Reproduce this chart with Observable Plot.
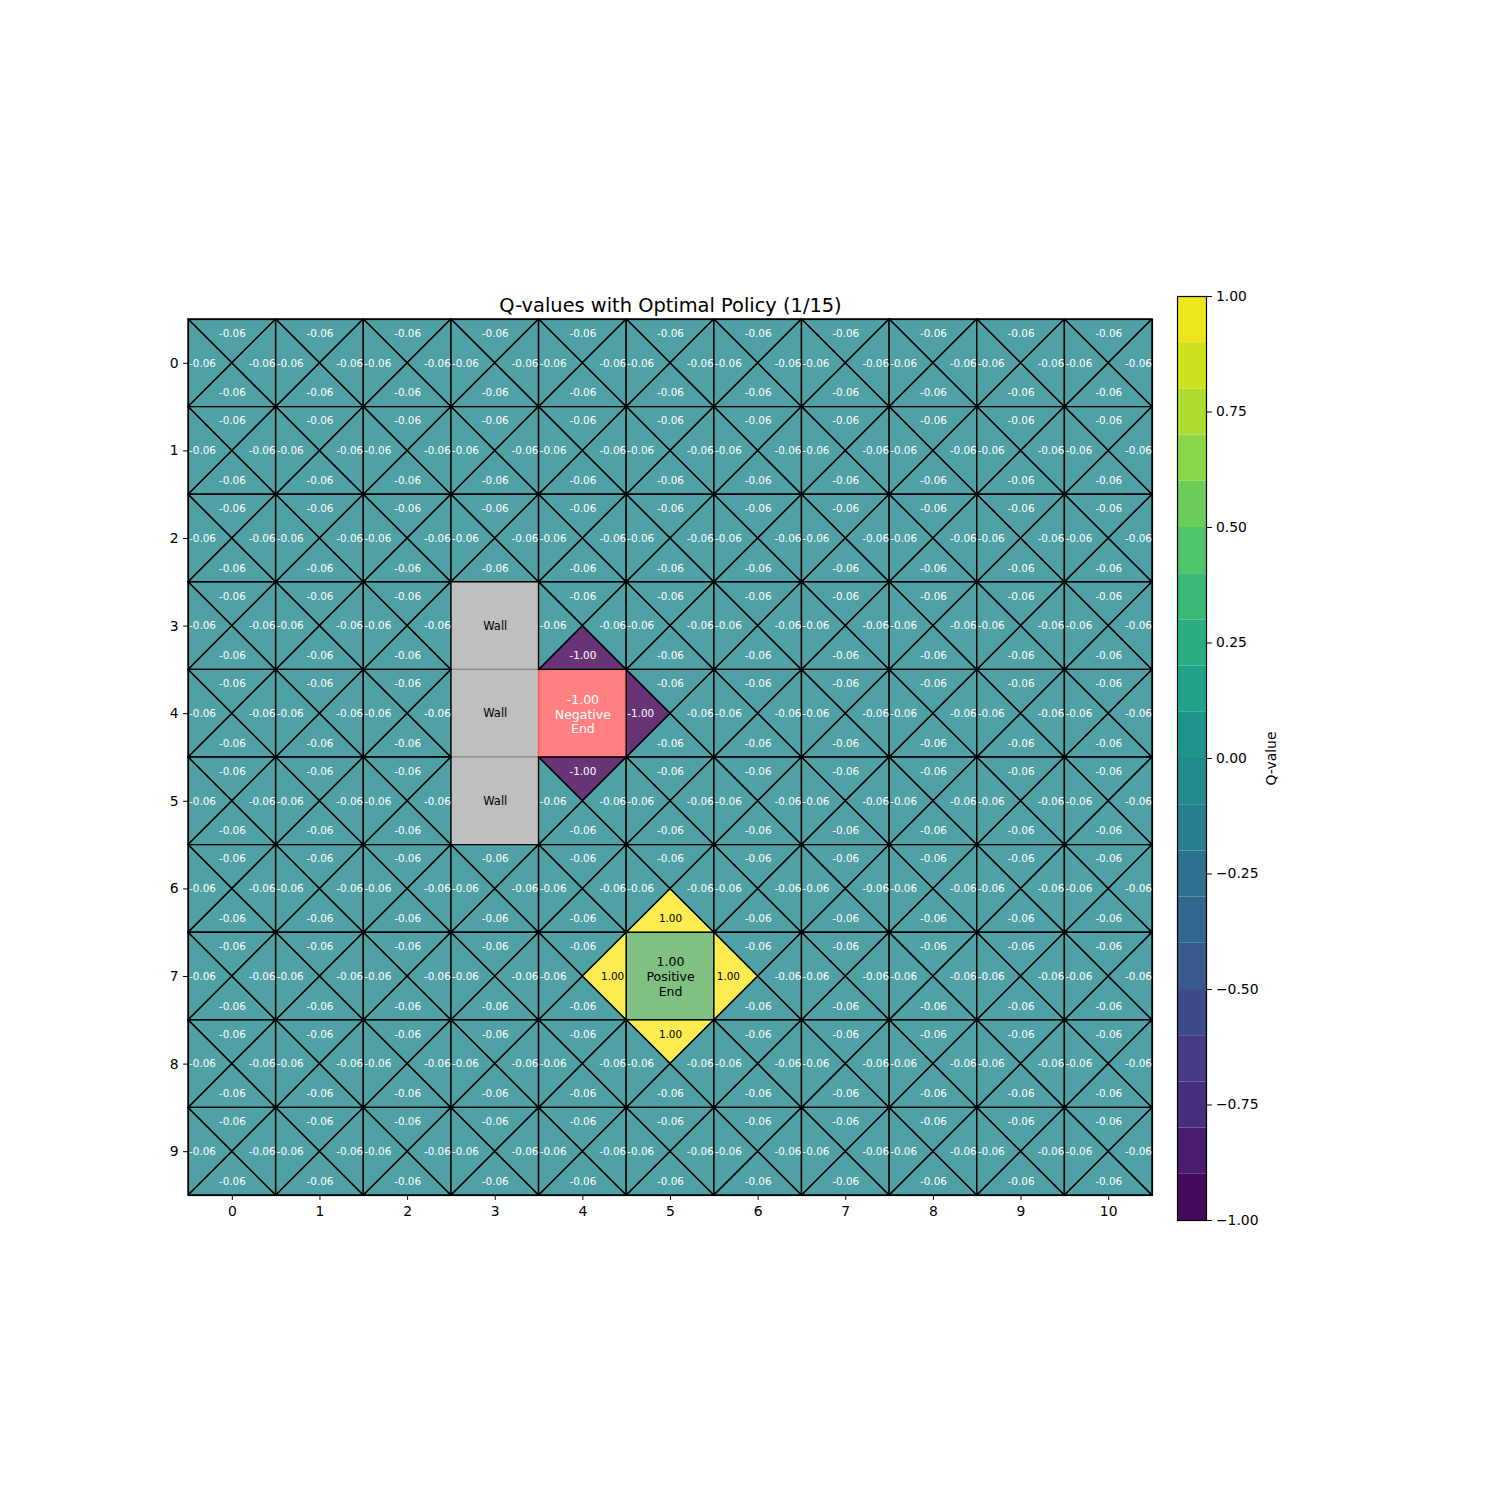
<!DOCTYPE html>
<html>
<head>
<meta charset="utf-8">
<script src="https://cdn.jsdelivr.net/npm/d3@7"></script>
<script src="https://cdn.jsdelivr.net/npm/@observablehq/plot@0.6"></script>
<style>
  html, body { margin: 0; padding: 0; background: white; }
  #chart { position: relative; width: 1500px; height: 1500px; }
  #chart svg { position: absolute; left: 0; top: 0; }
</style>
</head>
<body>
<div id="chart"></div>
<script>
const _ = null;
const titleText = "Q-values with Optimal Policy (1/15)";
const colTicks = [0, 1, 2, 3, 4, 5, 6, 7, 8, 9, 10];
const rowTicks = [0, 1, 2, 3, 4, 5, 6, 7, 8, 9];
const cbTicks = [-1.00, -0.75, -0.50, -0.25, 0.00, 0.25, 0.50, 0.75, 1.00];

// Q-value of the triangle pointing up / down / left / right in each cell (row, col)
const qUp = [
  [-0.06,-0.06,-0.06,-0.06,-0.06,-0.06,-0.06,-0.06,-0.06,-0.06,-0.06],
  [-0.06,-0.06,-0.06,-0.06,-0.06,-0.06,-0.06,-0.06,-0.06,-0.06,-0.06],
  [-0.06,-0.06,-0.06,-0.06,-0.06,-0.06,-0.06,-0.06,-0.06,-0.06,-0.06],
  [-0.06,-0.06,-0.06,_,-0.06,-0.06,-0.06,-0.06,-0.06,-0.06,-0.06],
  [-0.06,-0.06,-0.06,_,_,-0.06,-0.06,-0.06,-0.06,-0.06,-0.06],
  [-0.06,-0.06,-0.06,_,-1.00,-0.06,-0.06,-0.06,-0.06,-0.06,-0.06],
  [-0.06,-0.06,-0.06,-0.06,-0.06,-0.06,-0.06,-0.06,-0.06,-0.06,-0.06],
  [-0.06,-0.06,-0.06,-0.06,-0.06,_,-0.06,-0.06,-0.06,-0.06,-0.06],
  [-0.06,-0.06,-0.06,-0.06,-0.06,1.00,-0.06,-0.06,-0.06,-0.06,-0.06],
  [-0.06,-0.06,-0.06,-0.06,-0.06,-0.06,-0.06,-0.06,-0.06,-0.06,-0.06]
];
const qDown = [
  [-0.06,-0.06,-0.06,-0.06,-0.06,-0.06,-0.06,-0.06,-0.06,-0.06,-0.06],
  [-0.06,-0.06,-0.06,-0.06,-0.06,-0.06,-0.06,-0.06,-0.06,-0.06,-0.06],
  [-0.06,-0.06,-0.06,-0.06,-0.06,-0.06,-0.06,-0.06,-0.06,-0.06,-0.06],
  [-0.06,-0.06,-0.06,_,-1.00,-0.06,-0.06,-0.06,-0.06,-0.06,-0.06],
  [-0.06,-0.06,-0.06,_,_,-0.06,-0.06,-0.06,-0.06,-0.06,-0.06],
  [-0.06,-0.06,-0.06,_,-0.06,-0.06,-0.06,-0.06,-0.06,-0.06,-0.06],
  [-0.06,-0.06,-0.06,-0.06,-0.06,1.00,-0.06,-0.06,-0.06,-0.06,-0.06],
  [-0.06,-0.06,-0.06,-0.06,-0.06,_,-0.06,-0.06,-0.06,-0.06,-0.06],
  [-0.06,-0.06,-0.06,-0.06,-0.06,-0.06,-0.06,-0.06,-0.06,-0.06,-0.06],
  [-0.06,-0.06,-0.06,-0.06,-0.06,-0.06,-0.06,-0.06,-0.06,-0.06,-0.06]
];
const qLeft = [
  [-0.06,-0.06,-0.06,-0.06,-0.06,-0.06,-0.06,-0.06,-0.06,-0.06,-0.06],
  [-0.06,-0.06,-0.06,-0.06,-0.06,-0.06,-0.06,-0.06,-0.06,-0.06,-0.06],
  [-0.06,-0.06,-0.06,-0.06,-0.06,-0.06,-0.06,-0.06,-0.06,-0.06,-0.06],
  [-0.06,-0.06,-0.06,_,-0.06,-0.06,-0.06,-0.06,-0.06,-0.06,-0.06],
  [-0.06,-0.06,-0.06,_,_,-1.00,-0.06,-0.06,-0.06,-0.06,-0.06],
  [-0.06,-0.06,-0.06,_,-0.06,-0.06,-0.06,-0.06,-0.06,-0.06,-0.06],
  [-0.06,-0.06,-0.06,-0.06,-0.06,-0.06,-0.06,-0.06,-0.06,-0.06,-0.06],
  [-0.06,-0.06,-0.06,-0.06,-0.06,_,1.00,-0.06,-0.06,-0.06,-0.06],
  [-0.06,-0.06,-0.06,-0.06,-0.06,-0.06,-0.06,-0.06,-0.06,-0.06,-0.06],
  [-0.06,-0.06,-0.06,-0.06,-0.06,-0.06,-0.06,-0.06,-0.06,-0.06,-0.06]
];
const qRight = [
  [-0.06,-0.06,-0.06,-0.06,-0.06,-0.06,-0.06,-0.06,-0.06,-0.06,-0.06],
  [-0.06,-0.06,-0.06,-0.06,-0.06,-0.06,-0.06,-0.06,-0.06,-0.06,-0.06],
  [-0.06,-0.06,-0.06,-0.06,-0.06,-0.06,-0.06,-0.06,-0.06,-0.06,-0.06],
  [-0.06,-0.06,-0.06,_,-0.06,-0.06,-0.06,-0.06,-0.06,-0.06,-0.06],
  [-0.06,-0.06,-0.06,_,_,-0.06,-0.06,-0.06,-0.06,-0.06,-0.06],
  [-0.06,-0.06,-0.06,_,-0.06,-0.06,-0.06,-0.06,-0.06,-0.06,-0.06],
  [-0.06,-0.06,-0.06,-0.06,-0.06,-0.06,-0.06,-0.06,-0.06,-0.06,-0.06],
  [-0.06,-0.06,-0.06,-0.06,1.00,_,-0.06,-0.06,-0.06,-0.06,-0.06],
  [-0.06,-0.06,-0.06,-0.06,-0.06,-0.06,-0.06,-0.06,-0.06,-0.06,-0.06],
  [-0.06,-0.06,-0.06,-0.06,-0.06,-0.06,-0.06,-0.06,-0.06,-0.06,-0.06]
];

const walls = [
  {row: 3, col: 3, label: "Wall"},
  {row: 4, col: 3, label: "Wall"},
  {row: 5, col: 3, label: "Wall"}
];
const terminals = [
  {row: 4, col: 4, value: -1.00, name: "Negative\nEnd", kind: "neg"},
  {row: 7, col: 5, value: 1.00, name: "Positive\nEnd", kind: "pos"}
];

// colorbar levels
const cbLevels = [-1.0,-0.9,-0.8,-0.7,-0.6,-0.5,-0.4,-0.3,-0.2,-0.1,0.0,0.1,0.2,0.3,0.4,0.5,0.6,0.7,0.8,0.9,1.0];

// build triangle geometry & labels
const triY = [], triX = [], labels = [];
const dirs = [
  {name: "up", grid: qUp, dx: 0, dy: -0.34},
  {name: "down", grid: qDown, dx: 0, dy: 0.34},
  {name: "left", grid: qLeft, dx: -0.34, dy: 0},
  {name: "right", grid: qRight, dx: 0.34, dy: 0}
];
rowTicks.forEach(r => colTicks.forEach(c => {
  dirs.forEach(d => {
    const q = d.grid[r][c];
    if (q === null) return;
    const id = `${r}-${c}-${d.name}`;
    if (d.name === "up") {
      triY.push({id, q, x: c - 0.5, y1: r - 0.5, y2: r - 0.5});
      triY.push({id, q, x: c, y1: r - 0.5, y2: r});
      triY.push({id, q, x: c + 0.5, y1: r - 0.5, y2: r - 0.5});
    } else if (d.name === "down") {
      triY.push({id, q, x: c - 0.5, y1: r + 0.5, y2: r + 0.5});
      triY.push({id, q, x: c, y1: r + 0.5, y2: r});
      triY.push({id, q, x: c + 0.5, y1: r + 0.5, y2: r + 0.5});
    } else if (d.name === "left") {
      triX.push({id, q, y: r - 0.5, x1: c - 0.5, x2: c - 0.5});
      triX.push({id, q, y: r, x1: c - 0.5, x2: c});
      triX.push({id, q, y: r + 0.5, x1: c - 0.5, x2: c - 0.5});
    } else {
      triX.push({id, q, y: r - 0.5, x1: c + 0.5, x2: c + 0.5});
      triX.push({id, q, y: r, x1: c + 0.5, x2: c});
      triX.push({id, q, y: r + 0.5, x1: c + 0.5, x2: c + 0.5});
    }
    labels.push({x: c + d.dx, y: r + d.dy, q, text: q.toFixed(2)});
  });
}));

const font = "DejaVu Sans, Liberation Sans, sans-serif";
const colorScale = {type: "linear", scheme: "viridis", domain: [-1, 1]};

const main = Plot.plot({
  width: 1500, height: 1500,
  marginTop: 319, marginBottom: 305, marginLeft: 188, marginRight: 348,
  style: {fontFamily: font, fontSize: "13.9px", background: "transparent", color: "black"},
  x: {domain: [-0.5, 10.5]},
  y: {domain: [-0.5, 9.5], reverse: true},
  color: colorScale,
  marks: [
    Plot.rect(walls, {x1: d => d.col - 0.5, x2: d => d.col + 0.5, y1: d => d.row - 0.5, y2: d => d.row + 0.5, fill: "#bfbfbf", stroke: "#8a8a8a", strokeWidth: 1.2}),
    Plot.rect(terminals.filter(d => d.kind === "neg"), {x1: d => d.col - 0.5, x2: d => d.col + 0.5, y1: d => d.row - 0.5, y2: d => d.row + 0.5, fill: "#ff8080", stroke: "#ff5a5a", strokeWidth: 1.5}),
    Plot.rect(terminals.filter(d => d.kind === "pos"), {x1: d => d.col - 0.5, x2: d => d.col + 0.5, y1: d => d.row - 0.5, y2: d => d.row + 0.5, fill: "#80c080", stroke: "#2f6f2f", strokeWidth: 1.5}),
    Plot.areaY(triY, {x: "x", y1: "y1", y2: "y2", z: "id", fill: "q", fillOpacity: 0.8, stroke: "black", strokeWidth: 1.4, curve: "linear"}),
    Plot.areaX(triX, {y: "y", x1: "x1", x2: "x2", z: "id", fill: "q", fillOpacity: 0.8, stroke: "black", strokeWidth: 1.4, curve: "linear"}),
    Plot.text(labels.filter(d => d.q < 0.5), {x: "x", y: "y", text: "text", fill: "white", fontSize: 10.4}),
    Plot.text(labels.filter(d => d.q >= 0.5), {x: "x", y: "y", text: "text", fill: "black", fontSize: 10.4}),
    Plot.text(walls, {x: "col", y: "row", text: "label", fill: "black", fontSize: 11.5}),
    Plot.text(terminals.filter(d => d.kind === "neg"), {x: "col", y: "row", text: d => d.value.toFixed(2) + "\n" + d.name, fill: "white", fontSize: 12.5, lineHeight: 1.2}),
    Plot.text(terminals.filter(d => d.kind === "pos"), {x: "col", y: "row", text: d => d.value.toFixed(2) + "\n" + d.name, fill: "black", fontSize: 12.5, lineHeight: 1.2}),
    Plot.frame({stroke: "black", strokeWidth: 1.2}),
    Plot.axisX({ticks: colTicks, tickFormat: d => String(d), tickSize: 4.9, tickPadding: 6, label: null, fontSize: 13.9}),
    Plot.axisY({ticks: rowTicks, tickFormat: d => String(d), tickSize: 4.9, tickPadding: 5, label: null, fontSize: 13.9}),
    Plot.text([titleText], {text: d => d, frameAnchor: "top", dy: -14, fontSize: 19.4, fill: "black", lineAnchor: "middle"})
  ]
});

const bands = cbLevels.slice(0, -1).map((v, i) => ({y1: v, y2: cbLevels[i + 1], mid: (v + cbLevels[i + 1]) / 2}));

const cbar = Plot.plot({
  width: 1500, height: 1500,
  marginTop: 296, marginBottom: 280, marginLeft: 1177, marginRight: 294,
  style: {fontFamily: font, fontSize: "13.9px", background: "transparent", color: "black"},
  x: {domain: [0, 1], axis: null},
  y: {domain: [-1, 1]},
  color: colorScale,
  marks: [
    Plot.rect(bands, {x1: 0, x2: 1, y1: "y1", y2: "y2", fill: "mid"}),
    Plot.frame({stroke: "black", strokeWidth: 1.2}),
    Plot.axisY({anchor: "right", ticks: cbTicks, tickFormat: d => d.toFixed(2).replace("-", "\u2212"), tickSize: 4.9, tickPadding: 4.5, label: null, fontSize: 13.9}),
    Plot.text(["Q-value"], {text: d => d, frameAnchor: "right", dx: 65, rotate: -90, textAnchor: "middle", fontSize: 13.9, fill: "black"})
  ]
});

const chart = document.getElementById("chart");
chart.appendChild(main);
chart.appendChild(cbar);
</script>
</body>
</html>
